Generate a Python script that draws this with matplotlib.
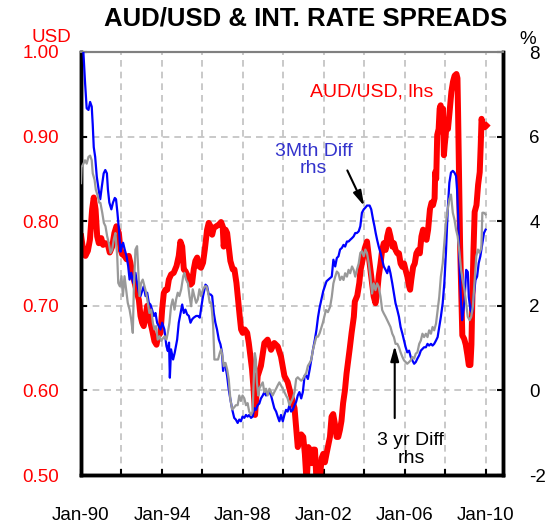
import matplotlib
matplotlib.use("Agg")
import matplotlib.pyplot as plt

plt.rcParams['font.family'] = ['Liberation Sans', 'DejaVu Sans']
plt.rcParams['axes.unicode_minus'] = False

# ---------------- data (decimal years) ----------------
red_years = [1990.01,1990.11,1990.22,1990.34,1990.44,1990.55,1990.63,1990.72,1990.80,1990.88,
 1991.00,1991.09,1991.21,1991.33,1991.42,1991.54,1991.65,1991.75,1991.87,1991.95,
 1992.03,1992.15,1992.25,1992.36,1992.44,1992.53,1992.61,1992.69,1992.77,1992.86,1992.94,
 1993.02,1993.10,1993.19,1993.27,1993.35,1993.43,1993.51,1993.63,1993.73,1993.81,1993.93,
 1994.01,1994.09,1994.17,1994.26,1994.34,1994.45,1994.58,1994.72,1994.83,1994.91,
 1995.00,1995.08,1995.16,1995.28,1995.41,1995.49,1995.57,1995.65,1995.74,1995.82,1995.93,
 1996.03,1996.12,1996.23,1996.31,1996.40,1996.48,1996.56,1996.69,1996.81,1996.92,
 1997.00,1997.05,1997.14,1997.22,1997.30,1997.38,1997.50,1997.58,1997.68,1997.76,1997.84,1997.91,1997.99,
 1998.09,1998.21,1998.29,1998.37,1998.45,1998.53,1998.60,1998.73,1998.89,
 1999.06,1999.22,1999.39,1999.55,1999.72,1999.88,
 2000.05,2000.21,2000.38,2000.55,2000.71,2000.88,2000.98,
 2001.06,2001.15,2001.23,2001.31,2001.39,2001.47,2001.56,2001.64,2001.72,2001.80,2001.89,2001.97,
 2002.05,2002.13,2002.30,2002.38,2002.46,2002.54,2002.63,2002.71,2002.79,2002.87,2002.95,
 2003.04,2003.12,2003.20,2003.28,2003.37,2003.48,2003.53,2003.65,2003.75,2003.81,2003.91,
 2004.02,2004.13,2004.22,2004.30,2004.38,2004.46,2004.55,2004.63,2004.71,2004.80,2004.88,2004.96,
 2005.05,2005.13,2005.21,2005.29,2005.38,2005.46,2005.54,2005.63,2005.71,2005.79,2005.88,2005.96,
 2006.04,2006.12,2006.21,2006.26,2006.32,2006.41,2006.49,2006.57,2006.66,2006.74,2006.82,2006.90,2006.99,
 2007.07,2007.15,2007.24,2007.32,2007.39,2007.47,2007.50,2007.55,2007.60,2007.67,2007.72,2007.77,
 2007.80,2007.85,2007.88,2007.93,2007.97,
 2008.02,2008.07,2008.13,2008.21,2008.30,2008.38,2008.46,2008.55,2008.60,2008.63,2008.68,2008.73,
 2008.79,2008.84,2008.93,
 2009.01,2009.09,2009.16,2009.24,2009.29,2009.34,2009.39,2009.45,2009.54,2009.62,2009.70,2009.75,
 2009.79,2009.87,2009.95,2010.03]
red_values = [0.782,0.765,0.759,0.765,0.778,0.814,0.828,0.814,0.782,0.774,
 0.780,0.772,0.774,0.772,0.763,0.770,0.786,0.794,0.786,0.767,
 0.761,0.759,0.755,0.759,0.751,0.739,0.731,0.723,0.715,0.707,0.688,
 0.680,0.676,0.688,0.700,0.692,0.680,0.672,0.658,0.654,0.664,0.668,
 0.696,0.715,0.719,0.719,0.731,0.737,0.739,0.747,0.759,0.776,
 0.770,0.743,0.741,0.735,0.725,0.727,0.743,0.753,0.757,0.747,0.745,
 0.751,0.767,0.790,0.798,0.794,0.784,0.792,0.794,0.796,0.799,
 0.794,0.770,0.790,0.786,0.770,0.753,0.743,0.743,0.727,0.707,0.688,0.672,0.668,
 0.672,0.668,0.656,0.641,0.625,0.600,0.571,0.617,0.629,
 0.656,0.660,0.648,0.656,0.652,0.640,
 0.617,0.610,0.594,0.579,0.533,0.548,0.545,
 0.525,0.490,0.533,0.530,0.514,0.530,0.530,0.490,0.510,0.495,0.520,0.525,
 0.515,0.525,0.545,0.569,0.572,0.561,0.545,0.545,0.553,0.564,0.585,
 0.600,0.620,0.635,0.650,0.668,0.687,0.705,0.712,0.727,0.742,0.754,
 0.768,0.776,0.758,0.742,0.727,0.711,0.703,0.715,0.735,0.750,0.766,0.774,
 0.766,0.782,0.790,0.782,0.770,0.774,0.766,0.762,0.762,0.750,0.746,0.750,
 0.742,0.735,0.723,0.719,0.731,0.746,0.750,0.762,0.766,0.762,0.782,0.790,0.782,
 0.778,0.790,0.814,0.822,0.819,0.827,0.858,0.850,0.902,0.909,0.933,0.937,
 0.917,0.913,0.933,0.878,0.890,
 0.902,0.917,0.909,0.929,0.953,0.965,0.972,0.974,0.969,0.929,0.850,0.772,
 0.713,0.665,0.661,
 0.654,0.642,0.630,0.630,0.654,0.713,0.764,0.811,0.819,0.843,0.858,0.890,
 0.921,0.913,0.911,0.913]

blue_years = [1990.00,1990.12,1990.20,1990.28,1990.37,1990.45,1990.53,1990.58,1990.63,1990.70,1990.78,1990.87,1990.95,
 1991.03,1991.12,1991.20,1991.28,1991.33,1991.40,1991.50,1991.58,1991.67,1991.73,1991.80,1991.87,1991.95,
 1992.03,1992.08,1992.16,1992.25,1992.33,1992.40,1992.48,1992.58,1992.69,1992.77,1992.86,1992.94,
 1993.02,1993.10,1993.19,1993.27,1993.35,1993.43,1993.51,1993.60,1993.68,1993.76,1993.84,1993.93,
 1994.01,1994.12,1994.22,1994.29,1994.35,1994.39,1994.45,1994.55,1994.63,1994.75,1994.83,1994.95,
 1995.00,1995.08,1995.16,1995.24,1995.33,1995.41,1995.49,1995.57,1995.69,1995.79,1995.87,1995.95,
 1996.03,1996.15,1996.23,1996.31,1996.40,1996.48,1996.56,1996.64,1996.72,1996.81,1996.89,1996.97,
 1997.02,1997.05,1997.14,1997.22,1997.30,1997.38,1997.47,1997.57,1997.65,1997.74,1997.82,1997.90,1997.98,
 1998.07,1998.15,1998.23,1998.31,1998.40,1998.48,1998.56,1998.64,1998.73,1998.81,1998.89,1998.98,
 1999.06,1999.14,1999.22,1999.31,1999.39,1999.47,1999.55,1999.64,1999.72,1999.80,1999.88,1999.97,
 2000.05,2000.13,2000.21,2000.30,2000.38,2000.46,2000.55,2000.63,2000.71,2000.79,2000.88,2000.96,
 2001.05,2001.13,2001.21,2001.30,2001.38,2001.46,2001.55,2001.63,2001.71,2001.79,2001.97,
 2002.13,2002.30,2002.39,2002.47,2002.56,2002.64,2002.72,2002.80,2002.89,2002.97,
 2003.05,2003.14,2003.22,2003.30,2003.39,2003.47,2003.55,2003.63,2003.72,2003.80,2003.88,2003.97,
 2004.05,2004.13,2004.26,2004.34,2004.43,2004.50,2004.56,2004.63,2004.71,2004.80,2004.88,2004.96,
 2005.05,2005.13,2005.21,2005.29,2005.38,2005.46,2005.54,2005.63,2005.71,2005.79,2005.88,2005.96,
 2006.04,2006.12,2006.21,2006.29,2006.37,2006.46,2006.54,2006.62,2006.71,2006.79,2006.87,2006.95,
 2007.04,2007.12,2007.20,2007.29,2007.37,2007.45,2007.54,2007.62,2007.70,2007.78,2007.87,2007.95,
 2008.03,2008.12,2008.20,2008.28,2008.37,2008.45,2008.53,2008.58,2008.64,2008.71,2008.78,2008.83,
 2008.90,2008.95,2009.03,2009.11,2009.16,2009.24,2009.32,2009.40,2009.49,2009.57,2009.65,2009.73,
 2009.83,2009.91,2009.99]
blue_values = [8.6,7.98,7.28,6.67,6.63,6.82,6.71,6.28,5.75,5.52,5.05,4.75,4.52,
 4.82,5.13,5.21,5.13,4.75,4.44,4.28,4.44,4.55,4.52,4.20,3.82,3.28,
 3.44,3.49,3.33,3.17,2.94,2.62,2.78,2.54,2.78,2.54,2.31,2.23,
 2.35,2.46,2.23,2.31,2.07,2.03,1.91,1.76,1.83,1.60,1.52,1.44,
 1.60,1.44,1.05,0.93,1.13,0.30,0.97,0.73,0.89,1.20,1.60,1.91,
 2.03,1.83,1.91,1.80,1.76,1.60,1.68,1.72,1.76,1.76,1.72,1.99,
 2.23,2.50,2.46,2.27,2.27,2.23,1.83,1.60,1.44,1.20,1.09,0.89,
 0.46,0.65,0.57,0.34,0.02,-0.21,-0.45,-0.65,-0.69,-0.77,-0.69,-0.73,-0.62,
 -0.65,-0.58,-0.62,-0.58,-0.65,-0.62,-0.42,-0.46,-0.35,-0.31,-0.19,-0.12,
 -0.04,-0.12,-0.04,-0.04,-0.12,-0.27,-0.42,-0.50,-0.62,-0.73,-0.58,-0.73,
 -0.58,-0.46,-0.50,-0.35,-0.50,-0.46,-0.35,-0.27,-0.12,-0.04,-0.19,-0.04,
 0.35,0.35,0.27,0.50,0.73,0.96,1.19,1.42,1.73,1.96,2.35,
 2.58,2.65,2.69,3.09,2.93,3.13,3.17,3.33,3.37,3.44,
 3.40,3.52,3.52,3.56,3.60,3.64,3.72,3.72,3.76,3.88,4.20,4.28,
 4.32,4.37,4.37,4.28,4.04,3.88,3.72,3.56,3.40,3.25,3.09,2.93,
 2.85,2.77,2.93,2.77,2.53,2.29,2.06,1.90,1.74,1.50,1.34,1.18,
 1.02,0.90,0.94,0.79,0.71,0.63,0.67,0.75,0.83,0.94,0.98,1.02,
 1.02,1.10,1.06,1.10,1.06,1.10,1.18,1.26,1.50,1.74,2.06,2.53,
 3.25,4.28,4.91,5.15,5.19,5.15,5.07,4.75,4.04,2.85,2.06,1.66,
 1.90,2.13,2.85,2.80,2.21,1.90,1.82,2.21,2.61,2.69,3.01,3.17,
 3.48,3.72,3.80]

gray_years = [1990.00,1990.03,1990.12,1990.20,1990.28,1990.37,1990.45,1990.53,1990.58,1990.67,1990.73,1990.83,1990.90,
 1990.96,1991.05,1991.13,1991.21,1991.29,1991.37,1991.46,1991.54,1991.62,1991.70,1991.79,1991.84,1991.92,
 1992.00,1992.07,1992.15,1992.23,1992.31,1992.40,1992.48,1992.56,1992.61,1992.69,1992.77,1992.82,1992.89,1992.97,
 1993.05,1993.14,1993.22,1993.30,1993.38,1993.47,1993.55,1993.63,1993.71,1993.79,1993.88,1993.96,
 1994.06,1994.14,1994.22,1994.29,1994.37,1994.45,1994.53,1994.62,1994.70,1994.78,1994.86,1994.95,
 1995.05,1995.11,1995.19,1995.28,1995.36,1995.44,1995.52,1995.60,1995.69,1995.77,1995.85,1995.93,
 1996.03,1996.12,1996.20,1996.28,1996.36,1996.43,1996.48,1996.53,1996.59,1996.69,1996.77,1996.86,1996.92,1996.99,
 1997.05,1997.14,1997.22,1997.30,1997.38,1997.47,1997.57,1997.65,1997.74,1997.82,1997.90,1997.98,
 1998.07,1998.15,1998.23,1998.31,1998.40,1998.48,1998.53,1998.59,1998.64,1998.69,1998.76,1998.81,1998.89,1998.98,
 1999.06,1999.14,1999.22,1999.31,1999.39,1999.47,1999.55,1999.64,1999.72,1999.80,1999.88,1999.97,
 2000.05,2000.13,2000.21,2000.30,2000.38,2000.46,2000.55,2000.63,2000.71,2000.79,2000.88,2000.96,
 2001.05,2001.13,2001.21,2001.30,2001.38,2001.46,2001.55,2001.63,2001.71,2001.79,2001.95,
 2002.10,2002.20,2002.31,2002.39,2002.47,2002.56,2002.64,2002.72,2002.80,2002.89,2002.97,
 2003.05,2003.14,2003.22,2003.30,2003.39,2003.47,2003.55,2003.63,2003.72,2003.80,2003.88,2003.97,
 2004.05,2004.13,2004.22,2004.30,2004.38,2004.46,2004.55,2004.63,2004.71,2004.80,2004.88,2004.96,
 2005.05,2005.13,2005.21,2005.29,2005.38,2005.46,2005.54,2005.63,2005.71,2005.79,2005.88,2005.96,
 2006.04,2006.12,2006.21,2006.29,2006.37,2006.46,2006.54,2006.62,2006.71,2006.79,2006.87,2006.95,
 2007.04,2007.12,2007.20,2007.29,2007.37,2007.45,2007.54,2007.62,2007.70,2007.78,2007.87,2007.95,
 2008.03,2008.12,2008.20,2008.28,2008.37,2008.45,2008.53,2008.61,2008.70,2008.78,2008.86,2008.95,
 2009.03,2009.11,2009.20,2009.28,2009.36,2009.44,2009.53,2009.61,2009.69,2009.78,2009.83,2009.91,2009.99]
gray_values = [4.90,5.28,5.36,5.44,5.36,5.52,5.55,5.44,5.13,4.98,4.75,4.59,4.44,
 4.43,4.20,3.96,3.88,3.65,3.49,3.25,3.33,3.57,3.72,3.17,2.54,2.46,
 2.70,2.23,2.70,2.39,2.07,1.91,1.68,1.36,2.39,3.33,3.41,2.94,2.23,2.54,
 2.62,2.46,2.31,2.07,1.83,1.91,1.60,1.44,1.52,1.20,1.28,1.17,
 1.24,1.28,1.20,1.36,1.60,1.99,2.15,1.91,2.15,2.31,2.23,2.39,
 2.70,2.78,2.62,2.54,2.23,1.99,2.39,2.23,2.07,2.15,2.39,2.23,
 2.39,2.46,2.46,2.31,2.07,2.07,1.83,1.52,0.73,0.73,0.73,0.89,0.97,0.81,
 0.57,0.65,0.50,0.26,-0.21,-0.45,-0.40,-0.35,-0.35,-0.12,-0.25,-0.12,
 -0.19,-0.35,-0.30,-0.50,-0.58,-0.50,0.19,0.88,0.73,0.19,-0.12,0.04,0.12,0.19,
 -0.04,0.04,-0.12,0.04,-0.04,-0.12,-0.04,0.04,0.12,0.19,0.12,0.04,
 -0.04,-0.12,-0.19,-0.35,-0.27,-0.19,-0.04,0.27,0.31,0.27,0.23,0.27,
 0.35,0.42,0.58,0.65,0.73,0.96,1.12,1.27,1.27,1.35,1.60,
 1.90,1.85,1.98,2.21,2.53,2.69,2.81,2.77,2.61,2.69,2.61,
 2.77,2.69,2.85,2.77,2.93,2.85,2.69,2.85,3.00,3.25,3.29,3.17,
 3.33,3.25,3.00,2.69,2.29,2.53,2.37,2.53,2.45,2.21,1.90,1.82,
 1.74,1.66,1.58,1.50,1.34,1.26,1.10,1.10,1.02,0.90,0.79,0.71,
 0.67,0.63,0.67,0.71,0.79,0.75,0.87,0.90,1.10,1.18,1.34,1.26,
 1.34,1.26,1.42,1.34,1.50,1.42,1.58,1.90,2.21,2.69,3.00,3.48,
 3.96,4.28,4.52,4.63,4.20,4.04,3.80,3.64,3.25,2.85,2.61,2.37,
 2.06,1.74,1.66,1.74,1.98,2.53,3.17,3.33,3.25,3.37,4.20,4.20,4.16]

x_tick_years = [1990, 1994, 1998, 2002, 2006, 2010]
x_tick_labels = ['Jan-90', 'Jan-94', 'Jan-98', 'Jan-02', 'Jan-06', 'Jan-10']
x_grid_years = [1992, 1994, 1996, 1998, 2000, 2002, 2004, 2006, 2008, 2010]
left_ticks = [0.50, 0.60, 0.70, 0.80, 0.90, 1.00]
right_ticks = [-2, 0, 2, 4, 6, 8]

# ---------------- figure ----------------
W, H = 552, 523
fig = plt.figure(figsize=(W / 100, H / 100), dpi=100)
ax = fig.add_axes([81 / W, 1 - 475 / H, 422 / W, 423 / H])
ax2 = ax.twinx()

ax.set_xlim(1990.0, 2010.85)
ax.set_ylim(0.5, 1.0)
ax2.set_ylim(-2, 8)

grid_kw = dict(color='#c0c0c0', linewidth=1.2, linestyle=(0, (4, 3)), zorder=0)
for gx in x_grid_years:
    ax.axvline(gx, **grid_kw)
for gy in left_ticks[1:-1]:
    ax.axhline(gy, **grid_kw)

ax.plot(red_years, red_values, color='#ff0000', lw=4.3, solid_joinstyle='round', zorder=2)
ax2.plot(blue_years, blue_values, color='#0000ff', lw=1.6, zorder=3)
ax2.plot(gray_years, gray_values, color='#999999', lw=1.6, zorder=4)

# ticks
xt = [1990] + x_grid_years
ax.set_xticks(xt)
ax.set_xticklabels([x_tick_labels[x_tick_years.index(y)] if y in x_tick_years else '' for y in xt])
ax.tick_params(axis='x', direction='in', length=4, width=1.5, labelsize=13.5, pad=23, colors='black')
ax.set_yticks(left_ticks)
ax.set_yticklabels(['%.2f' % v for v in left_ticks])
ax.tick_params(axis='y', direction='in', length=4, width=1.5, labelsize=13.5, pad=16,
               colors='black', labelcolor='#ff0000')
ax2.set_yticks(right_ticks)
ax2.set_yticklabels([str(v) for v in right_ticks])
ax2.tick_params(axis='y', direction='in', length=4, width=1.5, labelsize=13.5, pad=19)

for a in (ax, ax2):
    for s in ('left', 'right', 'bottom'):
        a.spines[s].set_linewidth(2.5)
        a.spines[s].set_color('black')
    a.spines['top'].set_color('#808080')
    a.spines['top'].set_linewidth(1.5)
ax2.patch.set_visible(False)

# texts
fig.text(306 / W, 1 - 19 / H, 'AUD/USD & INT. RATE SPREADS', ha='center', va='center',
         fontsize=18.5, fontweight='bold')
fig.text(51 / W, 1 - 37 / H, 'USD', ha='center', va='center', fontsize=13.5, color='#ff0000')
fig.text(528 / W, 1 - 39 / H, '%', ha='center', va='center', fontsize=13.5)

ax2.text(2004.35, 7.05, 'AUD/USD, lhs', ha='center', va='center', fontsize=14, color='#ff0000')
ax2.text(2001.5, 5.45, '3Mth Diff\nrhs', ha='center', va='center', fontsize=14,
         color='#3333cc', linespacing=1.05)
ax2.text(2006.3, -1.4, '3 yr Diff\nrhs', ha='center', va='center', fontsize=14,
         color='black', linespacing=1.05)

arrow_kw = dict(arrowstyle='-|>,head_length=0.9,head_width=0.25', color='black', lw=1.5)
ax2.annotate('', xy=(2004.05, 4.3), xytext=(2003.1, 5.26), arrowprops=arrow_kw)
ax2.annotate('', xy=(2005.5, 1.12), xytext=(2005.5, -0.72), arrowprops=arrow_kw)

fig.savefig('out.png', dpi=100)
